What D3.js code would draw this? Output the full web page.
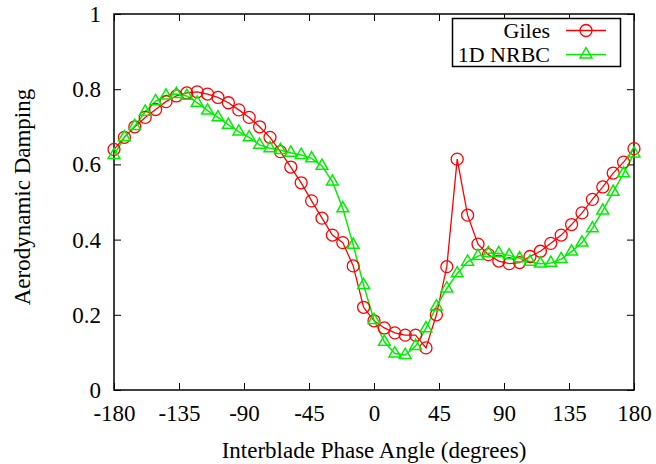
<!DOCTYPE html>
<html>
<head>
<meta charset="utf-8">
<script src="https://cdn.jsdelivr.net/npm/d3@7"></script>
<style>
  html, body { margin: 0; padding: 0; background: #fff; }
  text { font-family: "Liberation Serif", "DejaVu Serif", serif; }
</style>
</head>
<body>
<svg id="chart" width="656" height="464"></svg>
<script>
// Interblade phase angles: 51 points, 7.2 deg apart, from -180 to 180
const angles = d3.range(51).map(i => -180 + i * 7.2);

const giles = [
  0.640, 0.672, 0.700, 0.725, 0.746, 0.767, 0.782, 0.790, 0.793, 0.787,
  0.778, 0.764, 0.745, 0.725, 0.700, 0.672, 0.634, 0.593, 0.551, 0.503,
  0.457, 0.412, 0.392, 0.330, 0.220, 0.184, 0.165, 0.152, 0.146, 0.146,
  0.112, 0.200, 0.328, 0.614, 0.465, 0.388, 0.360, 0.343, 0.336, 0.339,
  0.355, 0.369, 0.390, 0.412, 0.440, 0.471, 0.507, 0.540, 0.577, 0.606,
  0.642
];

const nrbc = [
  0.625, 0.672, 0.702, 0.740, 0.768, 0.783, 0.787, 0.782, 0.764, 0.743,
  0.725, 0.705, 0.687, 0.672, 0.652, 0.643, 0.638, 0.631, 0.625, 0.616,
  0.596, 0.554, 0.483, 0.386, 0.279, 0.186, 0.128, 0.097, 0.093, 0.117,
  0.164, 0.222, 0.270, 0.310, 0.341, 0.356, 0.364, 0.364, 0.358, 0.350,
  0.341, 0.336, 0.338, 0.348, 0.368, 0.392, 0.430, 0.477, 0.527, 0.576,
  0.629
];

const xTicks = [-180, -135, -90, -45, 0, 45, 90, 135, 180];
const yTicks = [0, 0.2, 0.4, 0.6, 0.8, 1];
const seriesNames = ["Giles", "1D NRBC"];

const svg = d3.select("#chart");
const L = 114, R = 634, T = 14, B = 390;
const x = d3.scaleLinear().domain([-180, 180]).range([L, R]);
const y = d3.scaleLinear().domain([0, 1]).range([B, T]);
const tickLen = 7;
const fs = 23;

// frame
svg.append("rect").attr("x", L).attr("y", T).attr("width", R - L).attr("height", B - T)
  .attr("fill", "none").attr("stroke", "#000").attr("stroke-width", 1.5);

// axes (inward ticks, mirrored)
const gx = svg.append("g").attr("transform", `translate(0,${B})`)
  .call(d3.axisBottom(x).tickValues(xTicks).tickSizeInner(-tickLen).tickSizeOuter(0).tickPadding(0).tickFormat(d => String(d)));
const gxt = svg.append("g").attr("transform", `translate(0,${T})`)
  .call(d3.axisTop(x).tickValues(xTicks).tickSizeInner(-tickLen).tickSizeOuter(0).tickFormat(""));
const gy = svg.append("g").attr("transform", `translate(${L},0)`)
  .call(d3.axisLeft(y).tickValues(yTicks).tickSizeInner(-tickLen).tickSizeOuter(0).tickPadding(13).tickFormat(d => String(+d.toFixed(1))));
const gyr = svg.append("g").attr("transform", `translate(${R},0)`)
  .call(d3.axisRight(y).tickValues(yTicks).tickSizeInner(-tickLen).tickSizeOuter(0).tickFormat(""));

[gx, gxt, gy, gyr].forEach(g => {
  g.select(".domain").remove();
  g.selectAll(".tick line").attr("stroke", "#000").attr("stroke-width", 1);
  g.selectAll("text").attr("font-size", fs).attr("font-family", "Liberation Serif, serif").attr("fill", "#000");
});
gx.selectAll(".tick text").attr("y", 31).attr("dy", 0);
gy.selectAll(".tick text").attr("dy", "0.33em");

// axis titles
svg.append("text").attr("x", (L + R) / 2).attr("y", 458).attr("text-anchor", "middle")
  .attr("font-size", fs).text("Interblade Phase Angle (degrees)");
svg.append("text").attr("transform", `translate(30,${(T + B) / 2 - 5}) rotate(-90)`)
  .attr("text-anchor", "middle").attr("font-size", fs).text("Aerodynamic Damping");

const red = "#ff0000", green = "#00ee00";
const line = d3.line().x(d => x(d[0])).y(d => y(d[1]));
const gData = angles.map((a, i) => [a, giles[i]]);
const nData = angles.map((a, i) => [a, nrbc[i]]);

const plot = svg.append("g");
plot.append("path").datum(gData).attr("d", line).attr("fill", "none").attr("stroke", red).attr("stroke-width", 1.3);
plot.append("path").datum(nData).attr("d", line).attr("fill", "none").attr("stroke", green).attr("stroke-width", 1.5);

plot.selectAll("circle.g").data(gData).enter().append("circle")
  .attr("cx", d => x(d[0])).attr("cy", d => y(d[1])).attr("r", 6)
  .attr("fill", "none").attr("stroke", red).attr("stroke-width", 1.3);

const tri = d3.symbol().type(d3.symbolTriangle).size(60);
plot.selectAll("path.n").data(nData).enter().append("path")
  .attr("d", tri).attr("transform", d => `translate(${x(d[0])},${y(d[1])})`)
  .attr("fill", "none").attr("stroke", green).attr("stroke-width", 1.5);

// legend
const lfs = 22;
const lg = svg.append("g");
lg.append("rect").attr("x", 452.5).attr("y", 18.5).attr("width", 168).attr("height", 48)
  .attr("fill", "#fff").attr("stroke", "#000").attr("stroke-width", 1.5);
const rows = [
  { name: seriesNames[0], color: red, yy: 30.5, sym: "c" },
  { name: seriesNames[1], color: green, yy: 54.5, sym: "t" }
];
rows.forEach(r => {
  lg.append("text").attr("x", 550).attr("y", r.yy + 7.5).attr("text-anchor", "end")
    .attr("font-size", lfs).text(r.name);
  lg.append("line").attr("x1", 566).attr("x2", 606).attr("y1", r.yy).attr("y2", r.yy)
    .attr("stroke", r.color).attr("stroke-width", r.sym === "c" ? 1.3 : 1.5);
  if (r.sym === "c") {
    lg.append("circle").attr("cx", 586).attr("cy", r.yy).attr("r", 6)
      .attr("fill", "none").attr("stroke", r.color).attr("stroke-width", 1.3);
  } else {
    lg.append("path").attr("d", tri).attr("transform", `translate(586,${r.yy})`)
      .attr("fill", "none").attr("stroke", r.color).attr("stroke-width", 1.5);
  }
});
</script>
</body>
</html>
